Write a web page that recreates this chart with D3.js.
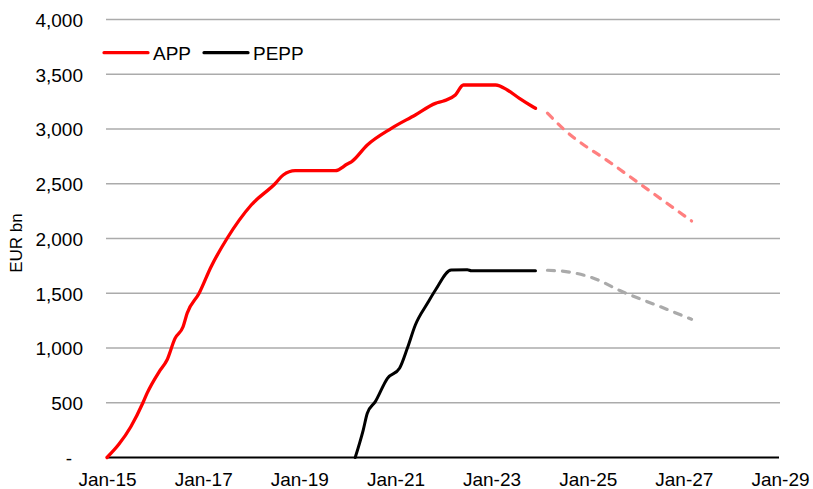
<!DOCTYPE html>
<html>
<head>
<meta charset="utf-8">
<script src="https://cdn.jsdelivr.net/npm/d3@7"></script>
<style>
  html, body { margin: 0; padding: 0; background: #fff; }
  svg { display: block; font-family: "Liberation Sans", Arial, sans-serif; }
</style>
</head>
<body>
<svg id="chart" width="813" height="489"></svg>
<script>
// ---------- data ----------
const appDates = ["2015-01","2015-04","2015-07","2015-10","2015-11","2016-02","2016-04","2016-06","2016-08","2016-09","2016-12","2017-03","2017-07","2018-01","2018-07","2018-09","2018-12","2019-10","2020-01","2020-02","2020-06","2020-12","2021-06","2021-11","2022-01","2022-04","2022-06","2023-02","2023-05","2023-08","2023-11","2023-12"];
const appValues = [0,120,281,500,586,783,890,1088,1194,1317,1500,1740,2000,2306,2500,2580,2619,2619,2680,2700,2854,3006,3128,3234,3256,3310,3402,3402,3356,3280,3210,3189];

const appProjDates = ["2024-03","2024-07","2025-07","2026-03","2027-03"];
const appProjValues = [3145,3000,2685,2475,2160];

const peppDates = ["2020-03","2020-05","2020-06","2020-08","2020-11","2021-02","2021-04","2021-06","2021-09","2021-11","2022-03","2022-07","2022-08","2023-12"];
const peppValues = [0,251,404,510,723,815,997,1210,1408,1530,1712,1714,1706,1706];

const peppProjDates = ["2024-03","2024-09","2025-03","2025-09","2026-07","2027-03"];
const peppProjValues = [1710,1690,1631,1525,1380,1262];

const yTicks = [0,500,1000,1500,2000,2500,3000,3500,4000];
const xTickLabels = ["Jan-15","Jan-17","Jan-19","Jan-21","Jan-23","Jan-25","Jan-27","Jan-29"];
const xTickDates = ["2015-01","2017-01","2019-01","2021-01","2023-01","2025-01","2027-01","2029-01"];
const legendLabels = ["APP","PEPP"];
const yTitle = "EUR bn";

// ---------- setup ----------
const parse = d3.timeParse("%Y-%m");
const svg = d3.select("#chart");
const FS = 19;

const x = d3.scaleTime()
  .domain([parse("2015-01"), parse("2029-01")])
  .range([107, 780]);
const y = d3.scaleLinear().domain([0, 4000]).range([457.5, 19.5]);

// gridlines
svg.append("g").selectAll("line")
  .data(yTicks.filter(d => d > 0))
  .join("line")
  .attr("x1", 106).attr("x2", 780)
  .attr("y1", d => y(d)).attr("y2", d => y(d))
  .attr("stroke", "#ababab").attr("stroke-width", 1.3);

// y axis labels (no axis line)
const fmt = d3.format(",");
const yAxis = d3.axisLeft(y).tickValues(yTicks).tickSize(0).tickPadding(0)
  .tickFormat(d => d === 0 ? "-" : fmt(d));
const gy = svg.append("g").attr("transform", "translate(83,0)").call(yAxis);
gy.select(".domain").remove();
gy.selectAll("text")
  .attr("font-family", "Liberation Sans, Arial, sans-serif")
  .attr("font-size", FS).attr("fill", "#000")
  .attr("dy", "0.36em")
  .attr("dx", d => d === 0 ? -11 : 0);

// x axis
const xAxis = d3.axisBottom(x).tickValues(xTickDates.map(parse)).tickSize(0).tickPadding(0)
  .tickFormat((d, i) => xTickLabels[i]);
const gx = svg.append("g").attr("transform", "translate(0,457.5)").call(xAxis);
gx.select(".domain").remove();
gx.selectAll("text")
  .attr("font-family", "Liberation Sans, Arial, sans-serif")
  .attr("font-size", FS).attr("fill", "#000")
  .attr("y", 28.5).attr("dy", 0);
svg.append("line")
  .attr("x1", x(parse("2015-01"))).attr("x2", x(parse("2029-01")) - 1)
  .attr("y1", y(0)).attr("y2", y(0))
  .attr("stroke", "#000").attr("stroke-width", 2.2);

// y title
svg.append("text")
  .attr("transform", "translate(22,243) rotate(-90)")
  .attr("text-anchor", "middle")
  .attr("font-size", 17).attr("fill", "#000")
  .text(yTitle);

// lines
const line = d3.line().x(d => x(d[0])).y(d => y(d[1])).curve(d3.curveMonotoneX);
function series(dates, values) { return dates.map((d, i) => [parse(d), values[i]]); }

const drawSpec = [
  { data: series(peppProjDates, peppProjValues), color: "#aaaaaa", w: 3.2, dash: "7,8" },
  { data: series(appProjDates, appProjValues), color: "#ff7f7f", w: 3.2, dash: "7,8" },
  { data: series(peppDates, peppValues), color: "#000000", w: 3.0, dash: null },
  { data: series(appDates, appValues), color: "#ff0000", w: 3.3, dash: null }
];
drawSpec.forEach(s => {
  svg.append("path")
    .attr("d", line(s.data))
    .attr("fill", "none")
    .attr("stroke", s.color)
    .attr("stroke-width", s.w)
    .attr("stroke-linejoin", "round")
    .attr("stroke-linecap", "round")
    .attr("stroke-dasharray", s.dash);
});

// legend
const legColors = ["#ff0000", "#000000"];
const legX = [104, 204];
legendLabels.forEach((lab, i) => {
  svg.append("line")
    .attr("x1", legX[i]).attr("x2", legX[i] + 44)
    .attr("y1", 52.7).attr("y2", 52.7)
    .attr("stroke", legColors[i]).attr("stroke-width", 3.2)
    .attr("stroke-linecap", "round");
  svg.append("text")
    .attr("x", legX[i] + 49).attr("y", 60)
    .attr("font-size", FS).attr("fill", "#000")
    .text(lab);
});
</script>
</body>
</html>
